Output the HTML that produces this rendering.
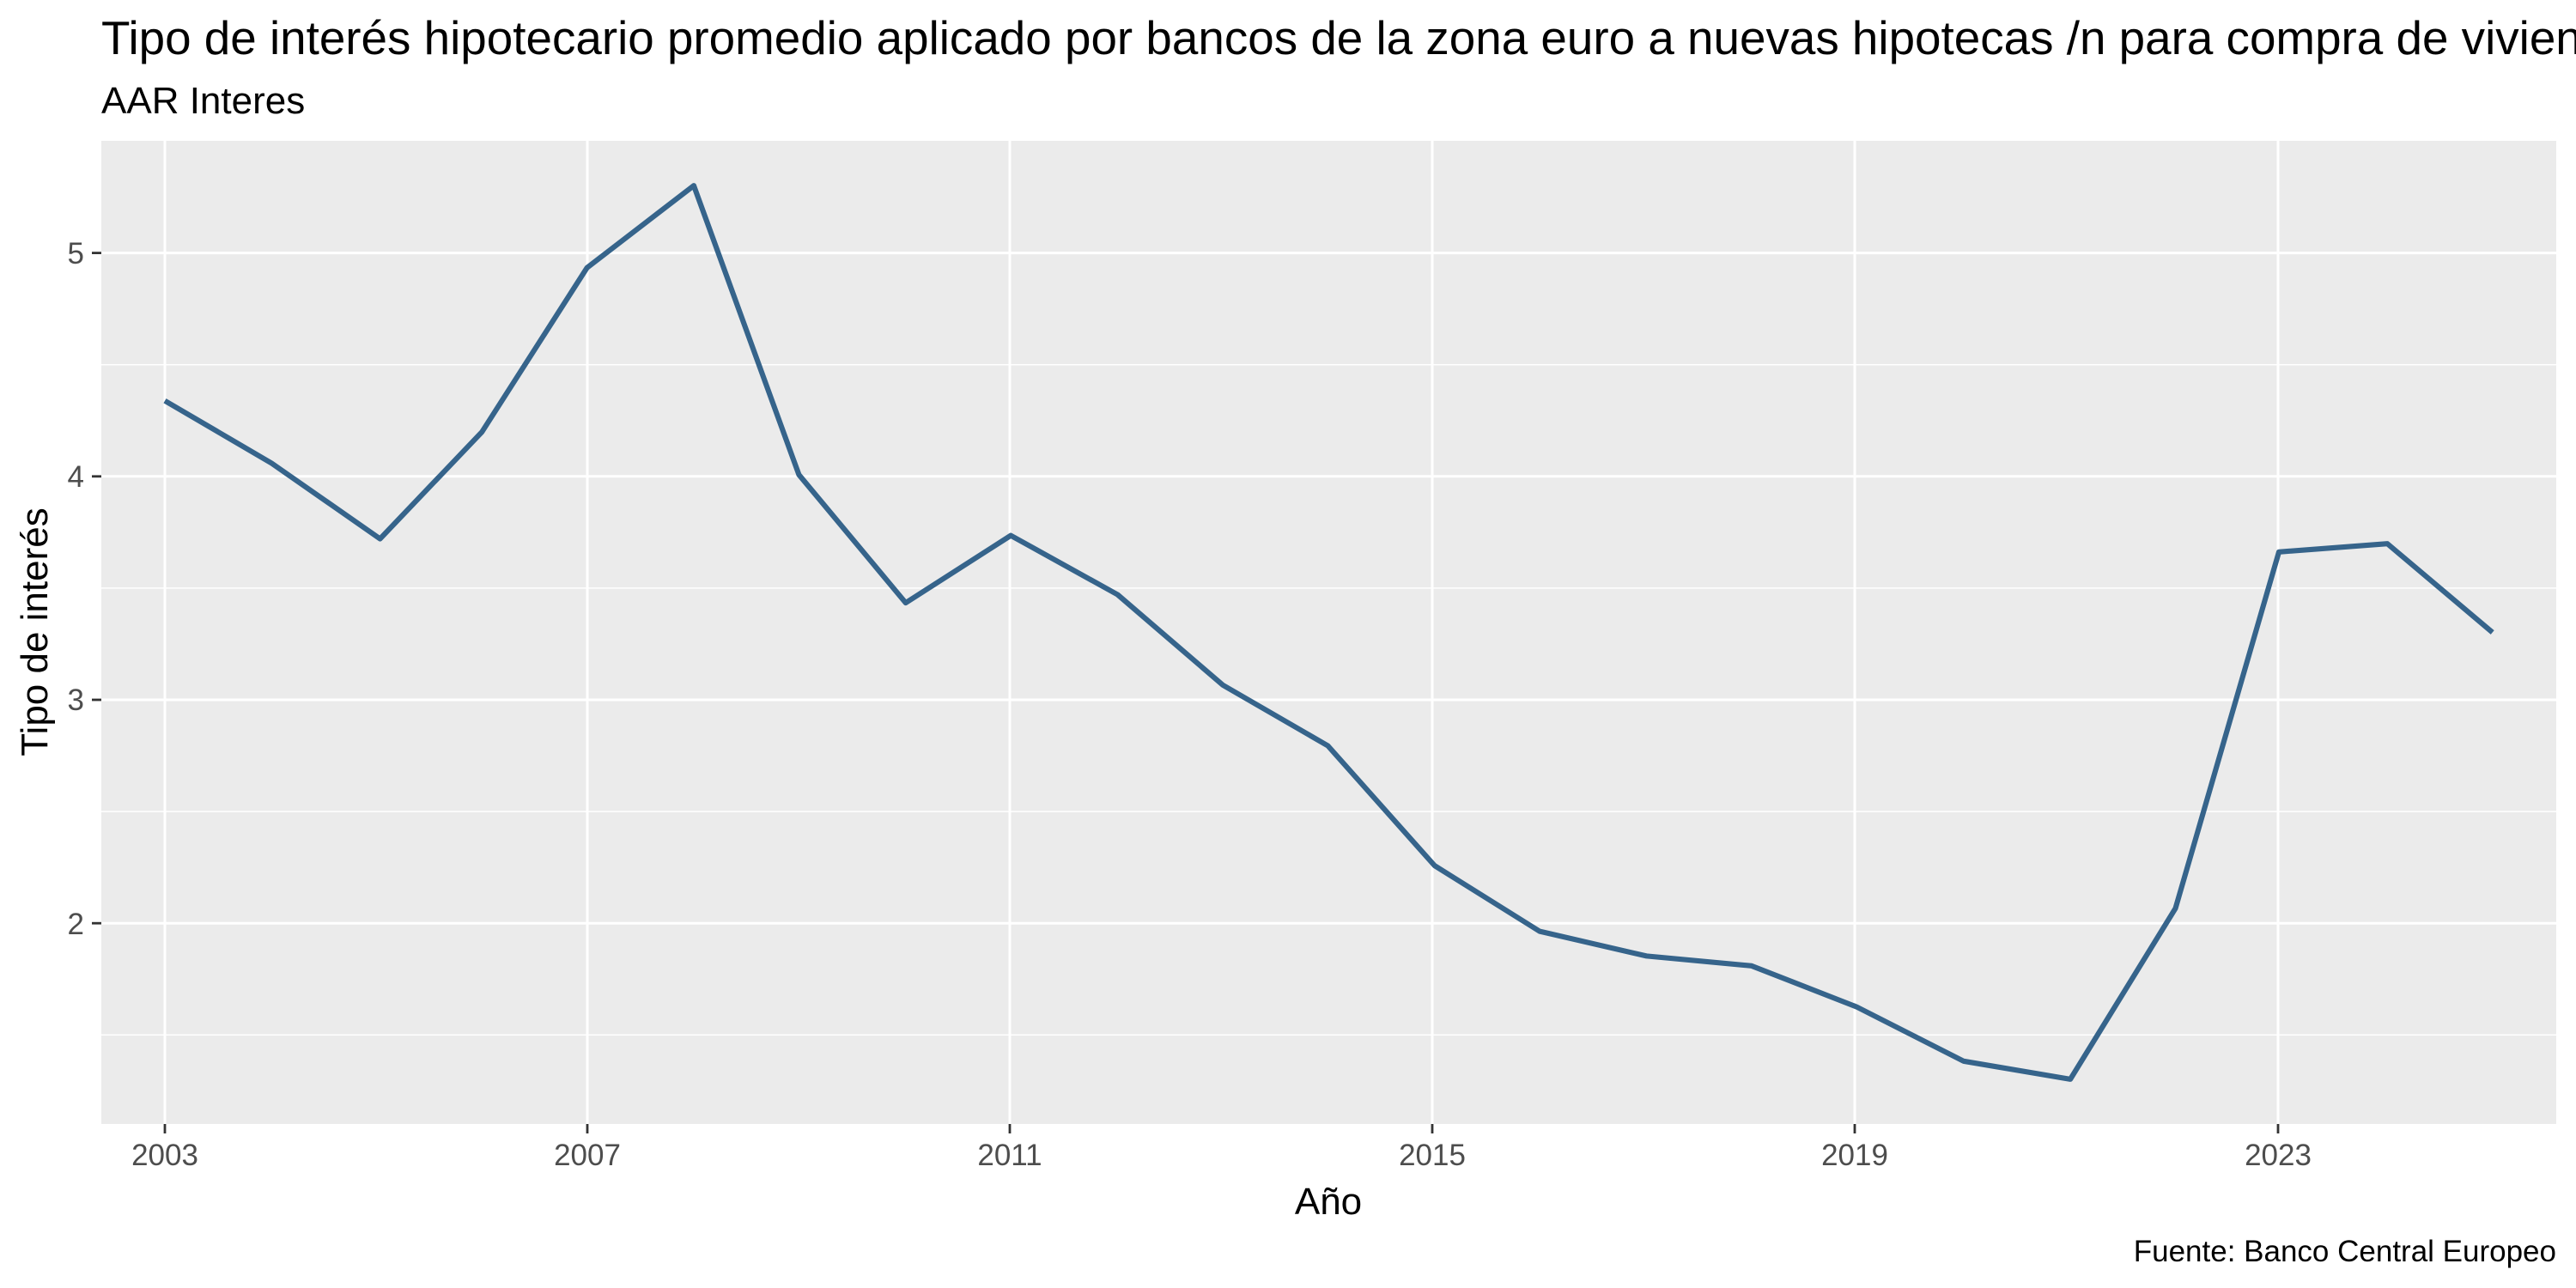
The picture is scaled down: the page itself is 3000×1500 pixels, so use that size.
<!DOCTYPE html>
<html><head><meta charset="utf-8"><style>
html,body{margin:0;padding:0;background:#fff;}
svg{display:block;font-family:"Liberation Sans",Arial,sans-serif;}
</style></head><body>
<svg width="3000" height="1500" viewBox="0 0 3000 1500" xmlns="http://www.w3.org/2000/svg">
<rect width="3000" height="1500" fill="#fff"/>
<text x="118" y="63" font-size="54.8" fill="#000">Tipo de interés hipotecario promedio aplicado por bancos de la zona euro a nuevas hipotecas /n para compra de vivienda</text>
<text x="118" y="132" font-size="44" fill="#000">AAR Interes</text>
<rect x="118" y="164" width="2859" height="1145" fill="#ebebeb"/>
<g stroke="#fff" stroke-width="1.5">
<line x1="118" x2="2977" y1="1205.3" y2="1205.3"/>
<line x1="118" x2="2977" y1="945.1" y2="945.1"/>
<line x1="118" x2="2977" y1="684.9" y2="684.9"/>
<line x1="118" x2="2977" y1="424.7" y2="424.7"/>
</g>
<g stroke="#fff" stroke-width="3">
<line x1="118" x2="2977" y1="294.6" y2="294.6"/>
<line x1="118" x2="2977" y1="554.8" y2="554.8"/>
<line x1="118" x2="2977" y1="815" y2="815"/>
<line x1="118" x2="2977" y1="1075.2" y2="1075.2"/>
<line y1="164" y2="1309" x1="192" x2="192"/>
<line y1="164" y2="1309" x1="684" x2="684"/>
<line y1="164" y2="1309" x1="1176" x2="1176"/>
<line y1="164" y2="1309" x1="1668" x2="1668"/>
<line y1="164" y2="1309" x1="2160" x2="2160"/>
<line y1="164" y2="1309" x1="2653" x2="2653"/>
</g>
<g transform="translate(192 294.6) scale(1.913)">
<polyline fill="none" stroke="#36648b" stroke-width="3.2" stroke-linejoin="round" points="0,90 65,128 131,174 193,109 257,9 322,-41 386,135 451,213 515,172 580,208 644,263 708,300 773,373 837,413 902,428 966,434 1030,459 1095,492 1160,503 1224,399 1287,182 1353,177 1417,231"/>
</g>
<g stroke="#333" stroke-width="2.8">
<line x1="107" x2="118" y1="294.6" y2="294.6"/>
<line x1="107" x2="118" y1="554.8" y2="554.8"/>
<line x1="107" x2="118" y1="815" y2="815"/>
<line x1="107" x2="118" y1="1075.2" y2="1075.2"/>
<line y1="1309" y2="1320" x1="192" x2="192"/>
<line y1="1309" y2="1320" x1="684" x2="684"/>
<line y1="1309" y2="1320" x1="1176" x2="1176"/>
<line y1="1309" y2="1320" x1="1668" x2="1668"/>
<line y1="1309" y2="1320" x1="2160" x2="2160"/>
<line y1="1309" y2="1320" x1="2653" x2="2653"/>
</g>
<g font-size="35" fill="#4d4d4d" text-anchor="end">
<text x="98" y="307">5</text>
<text x="98" y="567">4</text>
<text x="98" y="827">3</text>
<text x="98" y="1088">2</text>
</g>
<g font-size="35" fill="#4d4d4d" text-anchor="middle">
<text x="192" y="1357">2003</text>
<text x="684" y="1357">2007</text>
<text x="1176" y="1357">2011</text>
<text x="1668" y="1357">2015</text>
<text x="2160" y="1357">2019</text>
<text x="2653" y="1357">2023</text>
</g>
<text x="1547" y="1414" font-size="44" text-anchor="middle" fill="#000">Año</text>
<text transform="translate(55 736) rotate(-90)" font-size="44" text-anchor="middle" fill="#000">Tipo de interés</text>
<text x="2977" y="1469" font-size="35" text-anchor="end" fill="#000">Fuente: Banco Central Europeo</text>
</svg>
</body></html>
